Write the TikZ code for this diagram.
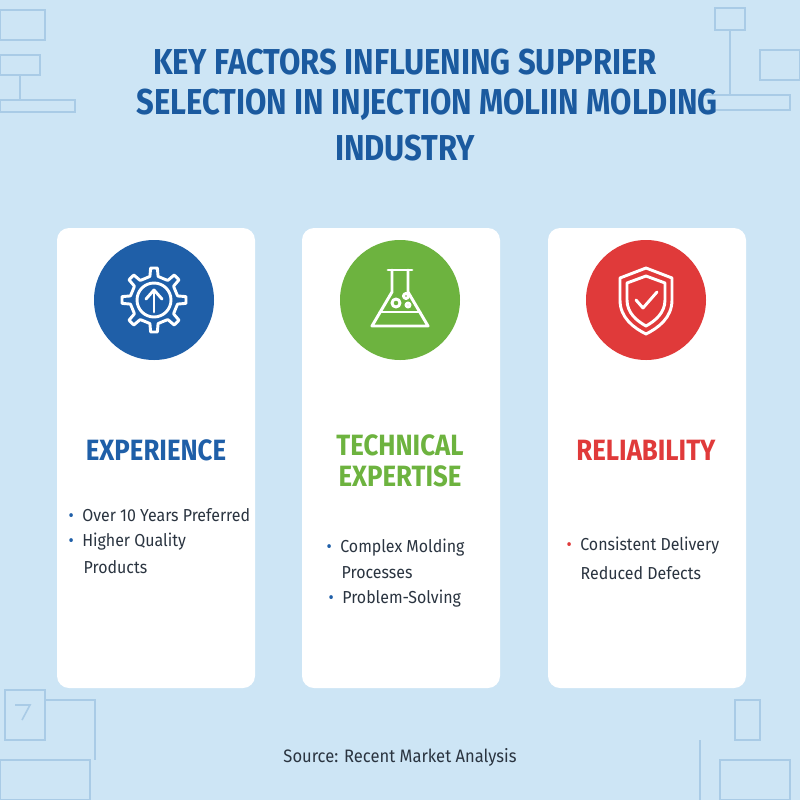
\documentclass[tikz,border=0pt]{standalone}
\usepackage{fontspec}
\setmainfont[FakeStretch=0.92]{Fira Sans}
\newfontfamily\titlefont[FakeStretch=0.86]{Fira Sans}
\newfontfamily\headfont[FakeStretch=0.88]{Fira Sans}
\definecolor{bg}{HTML}{CDE5F5}
\definecolor{tblue}{HTML}{1B5A9F}
\definecolor{cblue}{HTML}{1F5FA8}
\definecolor{cgreen}{HTML}{6DB33F}
\definecolor{cred}{HTML}{E03A3A}
\definecolor{txt}{HTML}{2A3440}
\definecolor{faint}{HTML}{A9CBE6}
\begin{document}
\begin{tikzpicture}[x=0.75pt,y=-0.75pt,
 card/.style={fill=white,rounded corners=9pt,draw=none},
 title/.style={font=\titlefont\fontsize{27}{30}\selectfont\bfseries,text=tblue},
 head/.style={font=\headfont\fontsize{22}{25}\selectfont\bfseries,align=center},
 item/.style={font=\fontsize{13}{15}\selectfont,text=txt,anchor=west},
 ic/.style={draw=white,line width=2.2pt,line join=round,line cap=round}]
\fill[bg] (0,0) rectangle (800,800);
\useasboundingbox (0,0) rectangle (800,800);
% faint corner machinery
\begin{scope}[draw=faint,line width=1.2pt]
\draw (0,10) rectangle (45,40); \draw (0,55) rectangle (40,75); \draw (20,75)--(20,100); \draw (0,100) rectangle (75,112);
\draw (715,8) rectangle (745,30); \draw (730,30)--(730,95); \draw (760,50) rectangle (800,80); \draw (700,95) rectangle (790,110);
\draw (5,690) rectangle (45,740); \draw (15,705)--(30,705)--(22,720); \draw (0,760) rectangle (90,800); \draw (45,700)--(95,700)--(95,760);
\draw (735,700) rectangle (760,740); \draw (720,760) rectangle (790,800); \draw (700,740)--(700,800);
\end{scope}
\node[title] (t1) at (405,62) {KEY FACTORS INFLUENING SUPPRIER};
\node[title] (t2) at (427,105) {SELECTION IN INJECTION MOLIIN MOLDING};
\node[title] (t3) at (405,148) {INDUSTRY};
\foreach \x in {57,302,548}{
 \path[card] (\x,228) rectangle (\x+198,688);
}
\node[circle,fill=cblue,minimum size=90pt] (c1) at (154,300) {};
\node[circle,fill=cgreen,minimum size=90pt] (c2) at (400,300) {};
\node[circle,fill=cred,minimum size=90pt] (c3) at (646,300) {};
% gear
\begin{scope}[shift={(154,300)}]
\draw[ic] (0,0) circle (17);
\draw[ic] plot[smooth cycle, tension=0.1] coordinates {
 (-10:24) (-6:32) (6:32) (10:24)
 (35:24) (39:32) (51:32) (55:24)
 (80:24) (84:32) (96:32) (100:24)
 (125:24) (129:32) (141:32) (145:24)
 (170:24) (174:32) (186:32) (190:24)
 (215:24) (219:32) (231:32) (235:24)
 (260:24) (264:32) (276:32) (280:24)
 (305:24) (309:32) (321:32) (325:24)};
\draw[ic] (0,12)--(0,-8); \draw[ic] (-8,-1)--(0,-10)--(8,-1);
\end{scope}
% flask
\begin{scope}[shift={(400,300)}]
\draw[ic] (-8,-30)--(-8,-8)--(-28,26)--(28,26)--(8,-8)--(8,-30);
\draw[ic] (-12,-30)--(12,-30);
\draw[ic] (-20,12)--(20,12);
\draw[ic] (-4,3) circle (4); \draw[ic] (6,-4) circle (2.5); \draw[ic] (8,5) circle (2);
\end{scope}
% shield
\begin{scope}[shift={(646,300)}]
\draw[ic] (0,-32)--(26,-22)--(26,0) .. controls (26,18) and (12,28) .. (0,34) .. controls (-12,28) and (-26,18) .. (-26,0)--(-26,-22)--cycle;
\draw[ic] (0,-24)--(19,-17)--(19,0) .. controls (19,13) and (9,21) .. (0,26) .. controls (-9,21) and (-19,13) .. (-19,0)--(-19,-17)--cycle;
\draw[ic] (-10,0)--(-3,8)--(11,-8);
\end{scope}
\node[head,text=cblue] (h1) at (156,450) {EXPERIENCE};
\node[head,text=cgreen] (h2) at (400,461) {TECHNICAL\\[-2pt]EXPERTISE};
\node[head,text=cred] (h3) at (646,450) {RELIABILITY};
\node[item] (a1) at (64,515) {\textcolor{cblue}{•}\ \ Over 10 Years Preferred};
\node[item] (a2) at (64,542) {\textcolor{cblue}{•}\ \ Higher Quality};
\node[item] (a3) at (79,567) {Products};
\node[item] (b1) at (322,548) {\textcolor{cblue}{•}\ \ Complex Molding};
\node[item] (b2) at (337,573) {Processes};
\node[item] (b3) at (324,599) {\textcolor{cblue}{•}\ \ Problem-Solving};
\node[item] (d1) at (562,546) {\textcolor{cred}{•}\ \ Consistent Delivery};
\node[item] (d2) at (576,573) {Reduced Defects};
\node[font=\fontsize{13.5}{15}\selectfont,text=txt] (src) at (400,757) {Source: Recent Market Analysis};
\end{tikzpicture}
\end{document}
